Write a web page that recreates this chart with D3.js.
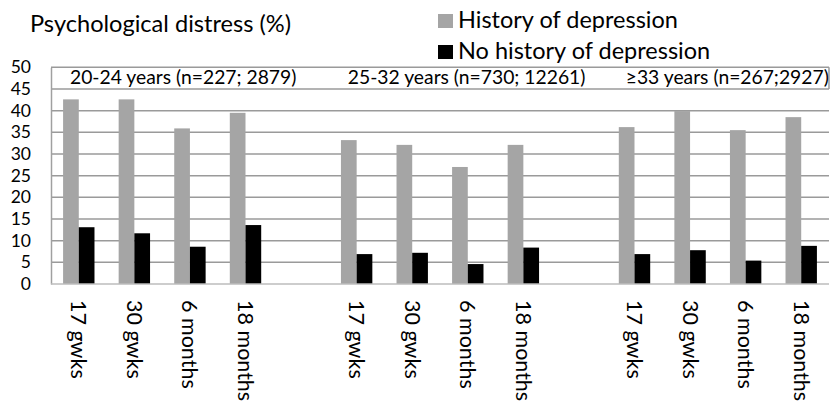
<!DOCTYPE html>
<html>
<head>
<meta charset="utf-8">
<script src="https://cdn.jsdelivr.net/npm/d3@7"></script>
<style>
  html, body { margin: 0; padding: 0; background: #fff; }
  svg { display: block; font-family: Lato, "Liberation Sans", sans-serif; }
</style>
</head>
<body>
<svg id="chart" width="830" height="402"></svg>
<script>
const groupLabels = ["20-24 years (n=227; 2879)", "25-32 years (n=730; 12261)", "\u226533 years (n=267;2927)"];
const timepoints = ["17 gwks", "30 gwks", "6 months", "18 months"];
const seriesNames = ["History of depression", "No history of depression"];
const historyValues = [42.6, 42.6, 35.9, 39.5, 33.2, 32.1, 27.0, 32.1, 36.2, 39.9, 35.5, 38.5];
const noHistoryValues = [13.1, 11.7, 8.6, 13.6, 6.9, 7.2, 4.6, 8.4, 6.9, 7.8, 5.4, 8.8];
const yTicks = [0, 5, 10, 15, 20, 25, 30, 35, 40, 45, 50];
const seriesColors = ["#a5a5a5", "#000000"];

// build category slots (with empty gaps between groups)
const rows = [];
const slots = [];
groupLabels.forEach((g, gi) => {
  timepoints.forEach((t, ti) => {
    const key = gi + "|" + t;
    slots.push(key);
    rows.push({key, group: gi, label: t, values: [historyValues[gi * 4 + ti], noHistoryValues[gi * 4 + ti]]});
  });
  if (gi < groupLabels.length - 1) slots.push("gap" + gi);
});

const svg = d3.select("#chart");
const mLeft = 51, mRight = 829, mTop = 67.3, mBottom = 284;

const x = d3.scaleBand().domain(slots).range([mLeft, mRight]).padding(0);
const xs = d3.scaleBand().domain([0, 1]).range([0, x.bandwidth()]).paddingInner(0).paddingOuter(0.77);
const y = d3.scaleLinear().domain([0, 50]).range([mBottom, mTop]);

// gridlines
svg.append("g").selectAll("line").data(yTicks.filter(d => d > 0)).join("line")
  .attr("x1", mLeft).attr("x2", mRight)
  .attr("y1", d => y(d)).attr("y2", d => y(d))
  .attr("stroke", "#9a9a9a").attr("stroke-width", 1.5);

// right border of the top band
svg.append("line").attr("x1", mRight).attr("x2", mRight).attr("y1", y(50)).attr("y2", y(45))
  .attr("stroke", "#9a9a9a").attr("stroke-width", 1.5);

// bars
const cat = svg.append("g").selectAll("g").data(rows).join("g")
  .attr("transform", d => `translate(${x(d.key)},0)`);
cat.selectAll("rect").data(d => d.values.map((v, i) => ({v, i}))).join("rect")
  .attr("x", d => xs(d.i))
  .attr("width", xs.bandwidth())
  .attr("y", d => y(d.v))
  .attr("height", d => y(0) - y(d.v))
  .attr("fill", d => seriesColors[d.i]);

// y axis
const yAxis = d3.axisLeft(y).tickValues(yTicks).tickSize(0).tickPadding(20).tickFormat(d3.format("d"));
const ya = svg.append("g").attr("transform", `translate(${mLeft},0)`).call(yAxis);
ya.select(".domain").attr("stroke", "#a0a0a0").attr("stroke-width", 1.5);
ya.selectAll("text").attr("font-size", 17.5).attr("fill", "#000").attr("font-family", "Lato, sans-serif");

// x baseline
svg.append("line").attr("x1", mLeft).attr("x2", mRight).attr("y1", y(0)).attr("y2", y(0))
  .attr("stroke", "#bdbdbd").attr("stroke-width", 1.5);

// x labels
const xAxis = d3.axisBottom(x).tickValues(rows.map(r => r.key)).tickSize(0).tickPadding(0)
  .tickFormat(k => rows.find(r => r.key === k).label);
const xa = svg.append("g").attr("transform", `translate(0,${mBottom})`).call(xAxis);
xa.select(".domain").remove();
xa.selectAll("text")
  .attr("font-size", 21.5).attr("fill", "#000").attr("font-family", "Lato, sans-serif")
  .attr("text-anchor", "start")
  .attr("transform", "translate(0,16) rotate(90)")
  .attr("x", 0).attr("y", 0).attr("dy", "0.35em");

// group labels in top band
svg.append("g").selectAll("text").data(groupLabels).join("text")
  .attr("x", (d, i) => x(i + "|" + timepoints[0]) + 19)
  .attr("y", y(45) - 4.5)
  .attr("font-size", 19.3)
  .text(d => d);

// title
svg.append("text").attr("x", 30).attr("y", 32).attr("font-size", 23.6).text("Psychological distress (%)");

// legend
const lg = svg.append("g").selectAll("g").data(seriesNames).join("g")
  .attr("transform", (d, i) => `translate(438,${28 + i * 31})`);
lg.append("rect").attr("x", 0).attr("y", -14).attr("width", 15).attr("height", 14)
  .attr("fill", (d, i) => seriesColors[i]);
lg.append("text").attr("x", 20).attr("y", 0).attr("font-size", 23.5).text(d => d);
</script>
</body>
</html>
